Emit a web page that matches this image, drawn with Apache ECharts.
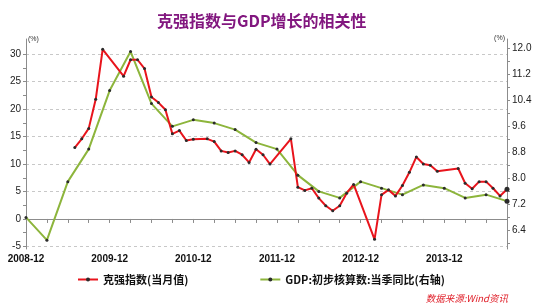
<!DOCTYPE html>
<html>
<head>
<meta charset="utf-8">
<script src="https://cdn.jsdelivr.net/npm/echarts@6/dist/echarts.min.js"></script>
<style>
html, body { margin: 0; padding: 0; background: #fff; }
#main { width: 540px; height: 308px; }
</style>
</head>
<body>
<div id="main"></div>
<script>
// 月份: 2008-12 ~ 2014-09
var months = [];
for (var y = 2008, m = 12; months.length < 70; m++) {
	if (m > 12) { m = 1; y++; }
	months.push(y + '-' + (m < 10 ? '0' + m : m));
}

// 克强指数(当月值), 缺失月份为 null
var keqiang = [
	null, null, null, null, null, null, null, 13.0, 14.6, 16.5, 21.8, 30.9,
	null, null, 26.0, 29.0, 29.0, 27.4, 22.2, 21.2, 19.9, 15.5, 16.1, 14.3,
	14.5, null, 14.6, 14.1, 12.4, 12.1, 12.4, 11.7, 10.3, 12.7, 11.7, 10.0,
	null, null, 14.6, 5.8, 5.2, 5.6, 3.8, 2.4, 1.5, 2.4, 4.7, 6.3,
	null, null, -3.7, 4.4, 5.3, 4.2, 6.1, 8.5, 11.3, 10.0, 9.8, 8.7,
	null, null, 9.2, 6.5, 5.5, 6.8, 6.8, 5.6, 4.2, 5.4
];

// GDP:初步核算数:当季同比, 2008Q4 ~ 2014Q3
var gdpQuarter = [6.8, 6.1, 7.9, 8.9, 10.7, 11.9, 10.3, 9.6, 9.8, 9.7, 9.5, 9.1,
	8.9, 8.1, 7.6, 7.4, 7.9, 7.7, 7.5, 7.8, 7.7, 7.4, 7.5, 7.3];

var leftTicks = [-5, 0, 5, 10, 15, 20, 25, 30];
var leftMinorTicks = [-2.5, 2.5, 7.5, 12.5, 17.5, 22.5, 27.5];
var rightLabels = [6.4, 7.2, 8.0, 8.8, 9.6, 10.4, 11.2, 12.0];
var rightTicks = [6.0, 6.4, 6.8, 7.2, 7.6, 8.0, 8.4, 8.8, 9.2, 9.6, 10.0, 10.4, 10.8, 11.2, 11.6, 12.0];

var gdp = months.map(function (d, i) {
	return i % 3 === 0 ? gdpQuarter[i / 3] : null;
});

var chart = echarts.init(document.getElementById('main'));
var font = '"Liberation Sans", Arial, "Noto Sans CJK SC", sans-serif';
var axisGray = '#8c8c8c';

var option = {
	animation: false,
	textStyle: { fontFamily: font },
	title: [{
		text: '克强指数与GDP增长的相关性',
		left: 152,
		top: 8,
		textStyle: { color: '#82177f', fontSize: 16, fontWeight: 'bold', fontFamily: '"Noto Sans CJK SC", sans-serif' }
	}, {
		text: '数据来源:Wind资讯',
		right: 27,
		top: 289,
		textStyle: { color: '#e0202a', fontSize: 9.5, fontStyle: 'italic', fontWeight: 'normal', fontFamily: '"Noto Sans CJK SC", sans-serif' }
	}],
	legend: {
		data: ['克强指数(当月值)', 'GDP:初步核算数:当季同比(右轴)'],
		left: 72,
		top: 269,
		itemGap: 71,
		itemWidth: 20,
		itemHeight: 5,
		textStyle: { color: '#111', fontSize: 11, fontWeight: 'bold', fontFamily: '"Noto Sans CJK SC", sans-serif' }
	},
	grid: { left: 26, right: 33, top: 39, bottom: 59 },
	xAxis: {
		type: 'category',
		data: months,
		boundaryGap: false,
		axisLine: { lineStyle: { color: axisGray } },
		axisTick: { interval: 2, length: 4, lineStyle: { color: axisGray } },
		axisLabel: { interval: 11, color: '#111', fontSize: 10, fontWeight: 'bold', margin: 5 },
		splitLine: { show: false }
	},
	yAxis: [{
		type: 'value',
		min: -5.47,
		max: 32.78,
		name: '(%)',
		nameLocation: 'end',
		nameGap: 0,
		nameTextStyle: { fontSize: 7, color: '#333', align: 'left', verticalAlign: 'middle', padding: [0, 0, 0, 2] },
		axisLine: { show: true, lineStyle: { color: axisGray } },
		axisTick: { show: true, length: 3, customValues: leftTicks, lineStyle: { color: axisGray } },
		axisLabel: { customValues: leftTicks, color: '#222', fontSize: 10, margin: 5 },
		splitLine: { show: true, lineStyle: { color: '#c8c8c8', type: [3, 3] } }
	}, {
		type: 'value',
		position: 'right',
		min: 5.829,
		max: 12.285,
		name: '(%)',
		nameLocation: 'end',
		nameGap: 1,
		nameTextStyle: { fontSize: 7, color: '#333', align: 'right', verticalAlign: 'middle', padding: [0, 2, 0, 0] },
		axisLine: { show: true, lineStyle: { color: axisGray } },
		axisTick: { show: true, length: 3, customValues: rightTicks, lineStyle: { color: axisGray } },
		axisLabel: {
			customValues: rightLabels, color: '#222', fontSize: 10, margin: 5,
			formatter: function (v) { return v.toFixed(1); }
		},
		splitLine: { show: false }
	}, {
		// 左轴次刻度
		type: 'value',
		position: 'left',
		min: -5.47,
		max: 32.78,
		axisLine: { show: false },
		axisTick: { show: true, length: 3, customValues: leftMinorTicks, lineStyle: { color: axisGray } },
		axisLabel: { show: false },
		splitLine: { show: false }
	}],
	series: [{
		name: 'GDP:初步核算数:当季同比(右轴)',
		type: 'line',
		yAxisIndex: 1,
		data: gdp,
		connectNulls: true,
		symbol: 'circle',
		symbolSize: function (v, p) { return p.dataIndex === months.length - 1 ? 5 : 3; },
		itemStyle: { color: '#2b2b2b' },
		lineStyle: { color: '#8db53c', width: 2 }
	}, {
		name: '克强指数(当月值)',
		type: 'line',
		yAxisIndex: 0,
		data: keqiang,
		connectNulls: true,
		symbol: 'circle',
		symbolSize: function (v, p) { return p.dataIndex === months.length - 1 ? 5 : 3; },
		itemStyle: { color: '#2b2b2b' },
		lineStyle: { color: '#e8141c', width: 2 }
	}]
};
chart.setOption(option);
</script>
</body>
</html>
